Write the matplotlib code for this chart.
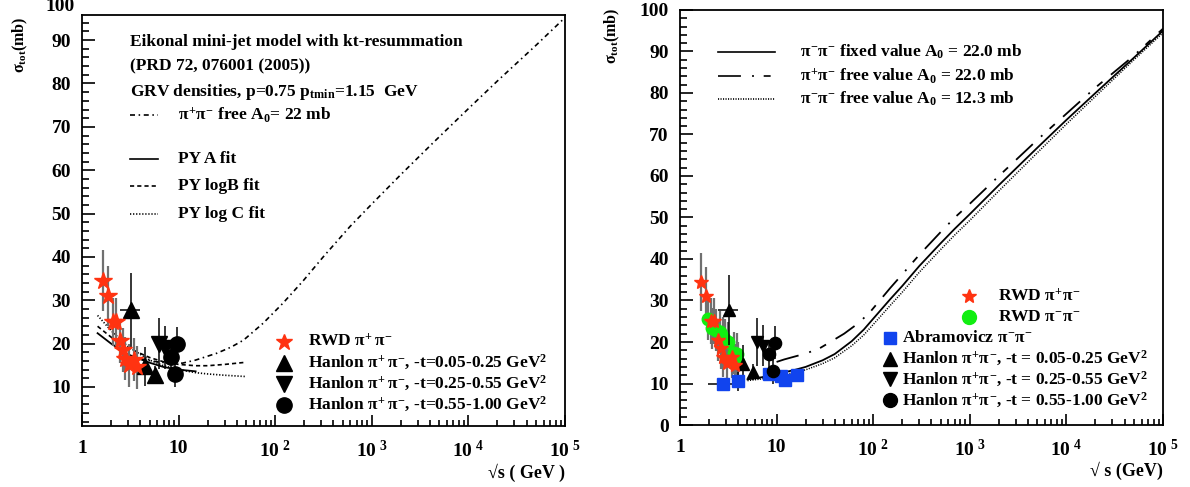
import numpy as np
import matplotlib
matplotlib.use("Agg")
import matplotlib.pyplot as plt
from matplotlib.ticker import FixedLocator, NullFormatter, LogLocator

plt.rcParams['font.family'] = ['Liberation Serif', 'DejaVu Serif']
plt.rcParams['font.weight'] = 'bold'
plt.rcParams['mathtext.fontset'] = 'custom'
plt.rcParams['mathtext.rm'] = 'Liberation Serif:bold'
plt.rcParams['mathtext.it'] = 'Liberation Serif:bold'
plt.rcParams['mathtext.bf'] = 'Liberation Serif:bold'
plt.rcParams['lines.scale_dashes'] = False

# --- data ---
# RWD pi+ pi-
rwd_pm_x = [1.65, 1.86, 2.08, 2.25, 2.45, 2.64, 2.81, 3.08, 3.43, 3.71]
rwd_pm_y = [34.5, 31.0, 25.0, 25.0, 20.5, 18.5, 16.5, 15.0, 16.3, 14.5]
rwd_pm_err = [7.0, 7.0, 5.5, 5.5, 5.0, 5.0, 5.0, 5.0, 5.0, 5.0]

# RWD pi- pi-
rwd_mm_x = [1.96, 2.13, 2.36, 2.59, 2.77, 2.92, 3.16, 3.62, 3.86, 4.0]
rwd_mm_y = [25.5, 23.3, 22.9, 22.5, 21.1, 20.5, 19.9, 17.3, 17.1, 15.1]
rwd_mm_err = [5.0, 5.0, 5.0, 5.0, 5.0, 5.0, 5.0, 5.0, 5.0, 5.0]

# Abramovicz pi- pi-
abr_x = [2.77, 4.0, 8.4, 11.1, 12.2, 16.1]
abr_y = [10.0, 10.5, 12.4, 11.7, 10.8, 12.1]
abr_yerr = [0.5, 2.2, 1.5, 1.0, 1.5, 0.8]
abr_xlo = [0.82, 0, 0, 0, 0, 0]
abr_xhi = [1.13, 0, 0, 0, 0, 0]

# Hanlon pi+ pi-, three -t bins
han1_x = [3.2, 4.5, 5.7]
han1_y = [27.7, 14.8, 12.8]
han1_yerr = [8.5, 4.5, 2.0]
han1_xlo = [0.72, 0, 0]
han1_xhi = [0.75, 0, 0]
han2_x = [6.2, 7.3]
han2_y = [20.0, 19.1]
han2_yerr = [5.8, 5.0]
han3_x = [8.3, 9.7, 9.1]
han3_y = [17.0, 19.8, 12.9]
han3_yerr = [3.5, 4.0, 3.0]

# left panel curves
free_x = [4, 6, 8, 11, 15, 25, 35, 47, 75, 120, 195, 314, 594, 1e3, 2e3, 4.3e3, 1e4, 2e4, 5e4, 1e5]
free_y = [16.5, 15.8, 15.5, 15.5, 16.2, 17.8, 19.2, 20.8, 24.7, 29.3, 34.5, 40.0, 47.0, 52.2,
          59.0, 66.3, 74.2, 80.6, 88.8, 95.2]
pya_x = [1.45, 2, 3, 5, 7, 10, 15]
pya_y = [22.4, 20.0, 17.5, 15.6, 14.6, 14.0, 13.6]
pyb_x = [1.45, 2, 3, 5, 7, 10, 15, 20, 30, 50]
pyb_y = [24.0, 21.5, 19.0, 16.8, 15.8, 15.2, 14.9, 14.9, 15.2, 15.7]
pyc_x = [1.45, 2, 3, 5, 7, 10, 15, 20, 30, 50]
pyc_y = [26.5, 23.0, 19.3, 16.2, 14.9, 14.0, 13.3, 13.0, 12.7, 12.4]

# right panel curves
rx = [5, 7, 10, 15, 20, 30, 40, 60, 80, 100, 150, 200, 300, 500, 700, 1e3, 2e3, 5e3, 1e4, 2e4, 5e4, 1e5]
fixed_y = [11.0, 11.5, 12.3, 13.2, 14.0, 15.6, 17.1, 20.2, 23.0, 25.6, 30.3, 33.5, 38.3, 43.8,
           47.3, 50.8, 57.8, 66.8, 73.5, 80.0, 88.5, 95.0]
free12_y = [10.7, 11.1, 11.8, 12.6, 13.3, 14.8, 16.2, 19.1, 21.7, 24.2, 28.8, 32.0, 36.8, 42.3,
            45.8, 49.3, 56.4, 65.6, 72.5, 79.2, 88.0, 94.5]
fx22 = [10, 12, 16, 20, 28, 36, 50, 70, 92, 150, 200, 300, 500, 700, 1e3, 2e3, 5e3, 1e4, 2e4, 5e4, 1e5]
free22_y = [15.2, 15.8, 16.6, 17.2, 18.5, 20.0, 22.0, 24.5, 27.1, 33.0, 36.3, 41.0, 46.5, 50.0,
            53.3, 60.0, 68.7, 75.0, 81.3, 89.0, 95.5]

STAR = '#ff3311'
GREEN = '#11ee11'
BLUE = '#1144ee'
GRAY = '#707070'

fig = plt.figure(figsize=(11.9, 4.87), dpi=100)
axl = fig.add_axes([0.0689, 0.1253, 0.4059, 0.8439])
axr = fig.add_axes([0.5714, 0.1273, 0.4059, 0.8522])


def style_axis(ax, ymin, ymax):
    ax.set_xscale('log')
    ax.set_xlim(1, 1e5)
    ax.set_ylim(ymin, ymax)
    for s in ax.spines.values():
        s.set_linewidth(1.3)
    ax.xaxis.set_major_locator(FixedLocator([1, 10, 1e2, 1e3, 1e4, 1e5]))
    ax.xaxis.set_minor_locator(LogLocator(base=10, subs=np.arange(2, 10), numticks=20))
    ax.xaxis.set_minor_formatter(NullFormatter())
    ax.set_xticklabels(['1', '10', r'$10^{\ 2}$', r'$10^{\ 3}$', r'$10^{\ 4}$', r'$10^{\ 5}$'])
    ax.yaxis.set_major_locator(FixedLocator(np.arange(0, 101, 10)))
    ax.yaxis.set_minor_locator(FixedLocator(np.arange(0, 101, 2)))
    ax.tick_params(which='both', direction='in', top=False, right=False,
                   labelsize=14, width=1.2)
    ax.tick_params(axis='y', which='major', length=9, pad=8)
    ax.tick_params(axis='y', which='minor', length=5)
    ax.tick_params(axis='x', which='major', length=8, pad=10)
    ax.tick_params(axis='x', which='minor', length=4)
    for lab in ax.get_xticklabels() + ax.get_yticklabels():
        lab.set_fontweight('bold')


def draw_points(ax, ms_scale=1.0, with_mm=False):
    ax.errorbar(rwd_pm_x, rwd_pm_y, yerr=rwd_pm_err, fmt='none', ecolor=GRAY, elinewidth=1.6, zorder=2)
    if with_mm:
        ax.errorbar(rwd_mm_x, rwd_mm_y, yerr=rwd_mm_err, fmt='none', ecolor=GRAY, elinewidth=1.6, zorder=2)
        ax.plot(rwd_mm_x, rwd_mm_y, 'o', color=GREEN, ms=9, mec=GREEN, zorder=3)
        ax.errorbar(abr_x, abr_y, yerr=abr_yerr, xerr=[abr_xlo, abr_xhi], fmt='s', color=BLUE,
                    ms=9, ecolor='black', elinewidth=1.1, zorder=4)
    ax.plot(rwd_pm_x, rwd_pm_y, '*', color=STAR, ms=13 * ms_scale, mec=STAR, zorder=5)
    ax.errorbar(han1_x, han1_y, yerr=han1_yerr, xerr=[han1_xlo, han1_xhi], fmt='^', color='black',
                ms=11 * ms_scale, elinewidth=1.1, zorder=4)
    ax.errorbar(han2_x, han2_y, yerr=han2_yerr, fmt='v', color='black', ms=11 * ms_scale, elinewidth=1.1, zorder=4)
    ax.errorbar(han3_x, han3_y, yerr=han3_yerr, fmt='o', color='black', ms=11 * ms_scale, elinewidth=1.1, zorder=4)


# ---------------- left panel ----------------
style_axis(axl, 1.0, 95.8)
axl.text(-0.016, 1.02, '100', transform=axl.transAxes, ha='right', va='center', fontsize=14,
         fontweight='bold')

dd_left = (3.6, 2.6, 1.1, 2.6)
axl.plot(free_x, free_y, color='black', lw=1.2, dashes=dd_left)
axl.plot(pya_x, pya_y, color='black', lw=1.3, ls='-')
axl.plot(pyb_x, pyb_y, color='black', lw=1.2, dashes=(3.0, 2.2))
axl.plot(pyc_x, pyc_y, color='black', lw=1.2, dashes=(0.9, 1.3))
draw_points(axl)

tx = 0.099
axl.text(tx, 0.935, 'Eikonal mini-jet model with kt-resummation', transform=axl.transAxes,
         fontsize=12.5, va='center')
axl.text(tx, 0.875, '(PRD 72, 076001 (2005))', transform=axl.transAxes, fontsize=12.5, va='center')
axl.text(tx, 0.812, r'GRV densities, p=0.75 p$_{\rm tmin}$=1.15  GeV', transform=axl.transAxes,
         fontsize=12.5, va='center')
axl.text(0.198, 0.757, r'$\pi^{+}\pi^{-}$ free A$_{0}$= 22 mb', transform=axl.transAxes,
         fontsize=12.5, va='center')
axl.text(0.198, 0.65, 'PY A fit', transform=axl.transAxes, fontsize=12.5, va='center')
axl.text(0.198, 0.583, 'PY logB fit', transform=axl.transAxes, fontsize=12.5, va='center')
axl.text(0.198, 0.517, 'PY log C fit', transform=axl.transAxes, fontsize=12.5, va='center')
for yy, kw in [(0.757, dict(dashes=dd_left)), (0.65, dict(ls='-')),
               (0.583, dict(dashes=(3.0, 2.2))), (0.517, dict(dashes=(0.9, 1.3)))]:
    axl.plot([0.1, 0.157], [yy, yy], transform=axl.transAxes, color='black', lw=1.2, **kw)

leg_rows = [('*', STAR, 12, r'RWD $\pi^{+}\,\pi^{-}$'),
            ('^', 'black', 11, r'Hanlon $\pi^{+}\,\pi^{-}$, -t=0.05-0.25 GeV$^{2}$'),
            ('v', 'black', 11, r'Hanlon $\pi^{+}\,\pi^{-}$, -t=0.25-0.55 GeV$^{2}$'),
            ('o', 'black', 11, r'Hanlon $\pi^{+}\,\pi^{-}$, -t=0.55-1.00 GeV$^{2}$')]
for i, (m, c, ms, lab) in enumerate(leg_rows):
    yy = 0.205 - i * 0.051
    axl.plot([0.418], [yy], m, color=c, mec=c, ms=ms, transform=axl.transAxes, clip_on=False)
    axl.text(0.467, yy, lab, transform=axl.transAxes, fontsize=12.5, va='center')

axl.text(-0.128, 0.995, r'$\sigma_{\rm tot}$(mb)', transform=axl.transAxes, rotation=90,
         ha='center', va='top', fontsize=11.5)
axl.text(1.0, -0.115, '√s ( GeV )', transform=axl.transAxes, ha='right', va='center',
         fontsize=13)

# ---------------- right panel ----------------
style_axis(axr, 0.0, 100.0)
dd_right = (16.5, 8.0, 1.4, 7.0, 5.0, 8.0)
axr.plot(rx, fixed_y, color='black', lw=1.3, ls='-')
axr.plot(fx22, free22_y, color='black', lw=1.3, dashes=dd_right)
axr.plot(rx, free12_y, color='black', lw=1.1, dashes=(0.8, 1.0))
draw_points(axr, ms_scale=0.8, with_mm=True)

for i, (kw, lab) in enumerate([(dict(ls='-'), r'$\pi^{-}\pi^{-}$ fixed value A$_{0}$ = 22.0 mb'),
                               (dict(dashes=dd_right), r'$\pi^{+}\pi^{-}$ free value A$_{0}$ = 22.0 mb'),
                               (dict(dashes=(0.8, 1.0)), r'$\pi^{-}\pi^{-}$ free value A$_{0}$ = 12.3 mb')]):
    yy = 0.899 - i * 0.057
    axr.plot([0.078, 0.196], [yy, yy], transform=axr.transAxes, color='black', lw=1.2, **kw)
    axr.text(0.248, yy, lab, transform=axr.transAxes, fontsize=12.5, va='center')

rleg = [('*', STAR, 10, 0.598, r'RWD $\pi^{+}\pi^{-}$'),
        ('o', GREEN, 10, 0.598, r'RWD $\pi^{-}\pi^{-}$'),
        ('s', BLUE, 9, 0.435, r'Abramovicz $\pi^{-}\pi^{-}$'),
        ('^', 'black', 10, 0.435, r'Hanlon $\pi^{+}\pi^{-}$, -t = 0.05-0.25 GeV$^{2}$'),
        ('v', 'black', 10, 0.435, r'Hanlon $\pi^{+}\pi^{-}$, -t = 0.25-0.55 GeV$^{2}$'),
        ('o', 'black', 10, 0.435, r'Hanlon $\pi^{+}\pi^{-}$, -t = 0.55-1.00 GeV$^{2}$')]
for i, (m, c, ms, mx, lab) in enumerate(rleg):
    yy = 0.31 - i * 0.05
    axr.plot([mx], [yy], m, color=c, mec=c, ms=ms, transform=axr.transAxes, clip_on=False)
    axr.text(mx + (0.06 if mx > 0.5 else 0.025), yy, lab, transform=axr.transAxes,
             fontsize=12.5, va='center')

axr.text(-0.14, 1.005, r'$\sigma_{\rm tot}$(mb)', transform=axr.transAxes, rotation=90,
         ha='center', va='top', fontsize=11.5)
axr.text(1.0, -0.11, '√ s (GeV)', transform=axr.transAxes, ha='right', va='center',
         fontsize=13)

fig.savefig('out.png', dpi=100, facecolor='white')
